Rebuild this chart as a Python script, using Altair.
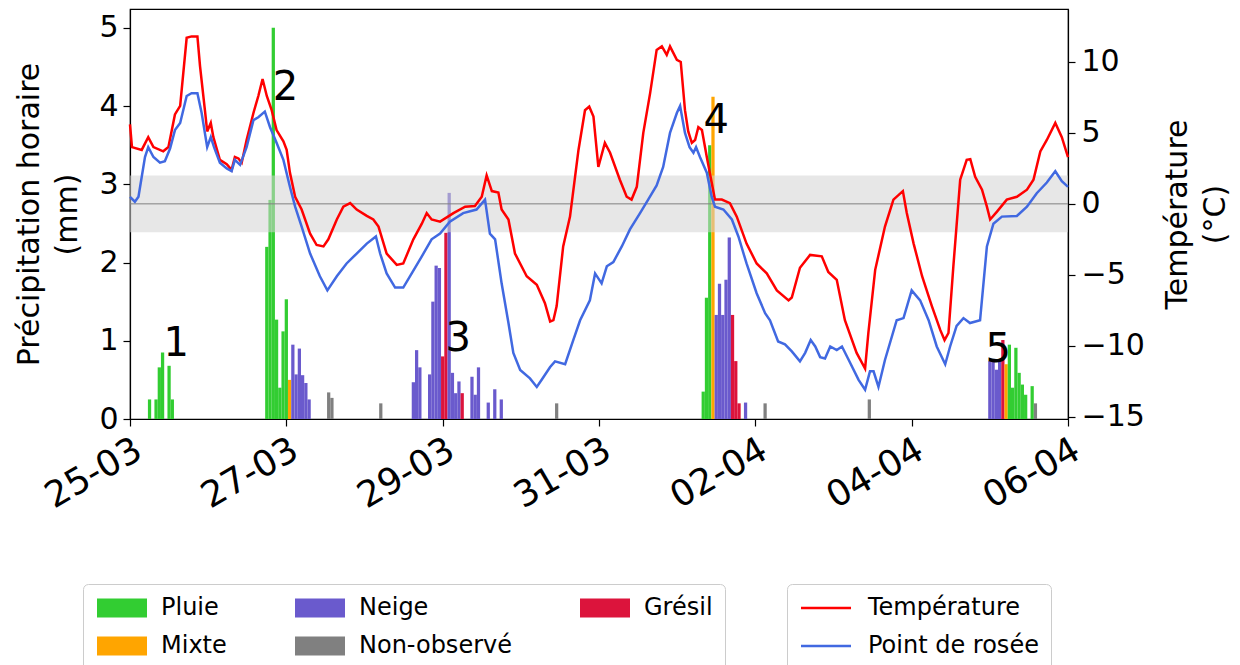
import altair as alt
import pandas as pd

# ---- Hourly precipitation (hour after 25-03 00:00, mm, type code) ----
bar_hours = [6, 8, 9, 10, 12, 13,
             42, 43, 44, 45, 46, 47, 48, 49, 50, 51, 52, 53, 54, 55, 61, 62, 77,
             87, 88, 89, 92, 93, 94, 95, 96, 97, 98, 99, 100, 101, 102, 105, 106, 107, 110, 112, 114, 131,
             176, 177, 178, 179, 180, 181, 182, 183, 184, 185, 186, 187, 189, 195, 227,
             264, 265, 266, 267, 268, 269, 270, 271, 272, 273, 274, 275, 277, 278]
bar_mm = [0.25, 0.25, 0.66, 0.85, 0.68, 0.25,
          2.2, 2.8, 5.0, 1.27, 0.4, 1.12, 1.53, 0.5, 0.95, 0.57, 0.9, 0.56, 0.46, 0.25, 0.34, 0.27, 0.2,
          0.47, 0.88, 0.66, 0.57, 1.5, 1.96, 1.93, 0.8, 2.38, 2.89, 0.59, 0.33, 0.48, 0.33, 0.54, 0.31, 0.66, 0.21, 0.38, 0.25, 0.2,
          0.35, 1.55, 3.5, 4.12, 1.33, 1.73, 1.33, 1.78, 2.32, 1.33, 0.74, 0.2, 0.21, 0.2, 0.25,
          0.74, 0.74, 0.63, 0.74, 1.01, 0.7, 0.95, 0.4, 0.91, 0.59, 0.44, 0.31, 0.42, 0.2]
bar_types = ["P", "P", "P", "P", "P", "P",
             "P", "P", "P", "P", "P", "P", "P", "M", "N", "N", "N", "N", "N", "N", "U", "U", "U",
             "N", "N", "N", "N", "N", "N", "N", "G", "G", "N", "N", "N", "N", "G", "N", "N", "N", "N", "N", "N", "U",
             "P", "P", "P", "M", "N", "N", "N", "N", "N", "G", "G", "G", "N", "U", "U",
             "N", "N", "N", "N", "G", "M", "P", "P", "P", "P", "P", "P", "P", "U"]
type_names = {"P": "Pluie", "N": "Neige", "G": "Grésil", "M": "Mixte", "U": "Non-observé"}
# legend fills column by column: Pluie/Mixte, Neige/Non-observé, Grésil
legend_order = ["Pluie", "Mixte", "Neige", "Non-observé", "Grésil"]
legend_colors = ["#32cd32", "#ffa500", "#6a5acd", "#808080", "#dc143c"]

# ---- Temperature and dew point (°C) ----
temp_hours = [0.0, 0.6, 3.6, 5.6, 7.2, 10.2, 11.8, 13.8, 15.4, 17.4,
              18.9, 20.7, 21.5, 23.0, 23.7, 24.8, 25.6, 27.6, 29.7, 31.2,
              32.2, 33.3, 34.3, 35.8, 37.9, 39.4, 40.7, 42.0, 43.5, 45.0,
              47.1, 48.1, 49.1, 50.7, 52.7, 55.3, 57.3, 59.4, 60.9, 63.5,
              65.5, 67.6, 69.6, 72.7, 74.7, 76.3, 78.8, 81.9, 83.9, 87.0,
              89.6, 91.1, 92.6, 95.2, 99.3, 102.9, 105.9, 108.0, 109.5, 111.1,
              113.1, 114.1, 116.2, 118.2, 121.8, 124.9, 127.4, 129.0, 130.0, 131.0,
              133.0, 135.1, 137.7, 139.7, 141.0, 142.3, 143.8, 145.8, 147.4, 150.4,
              152.5, 154.0, 155.6, 157.6, 159.7, 161.7, 163.3, 164.8, 165.8, 167.9,
              169.1, 170.4, 171.4, 172.5, 173.5, 174.5, 175.6, 177.1, 178.6, 179.6,
              181.7, 184.2, 186.3, 189.3, 192.4, 195.5, 198.6, 202.2, 203.2, 205.7,
              208.8, 212.4, 214.4, 217.0, 219.5, 223.1, 225.7, 226.7, 228.8, 231.8,
              234.4, 237.3, 238.5, 240.6, 243.2, 246.2, 248.8, 250.1, 251.3, 252.8,
              254.9, 256.9, 258.0, 259.5, 261.6, 263.1, 264.1, 266.2, 269.2, 272.3,
              275.4, 277.4, 279.5, 281.5, 284.1, 286.1, 288.0]
temp_values = [5.6, 4.0, 3.8, 4.7, 4.0, 3.7, 4.0, 6.3, 6.9, 11.7,
               11.8, 11.8, 9.7, 6.6, 5.1, 5.7, 4.7, 3.1, 2.8, 2.4,
               3.3, 3.2, 2.9, 4.5, 6.4, 7.6, 8.8, 7.6, 6.6, 5.2,
               4.4, 3.8, 2.2, 0.5, -0.4, -2.1, -2.9, -3.0, -2.5, -1.1,
               -0.2, 0.05, -0.4, -0.85, -1.1, -1.6, -3.5, -4.3, -4.2, -2.5,
               -1.4, -0.65, -1.1, -1.25, -0.65, -0.2, -0.15, 0.5, 2.0, 0.9,
               0.8, -0.4, -1.1, -3.5, -5.1, -5.7, -7.0, -8.3, -8.2, -7.2,
               -3.0, -0.9, 3.8, 6.6, 6.85, 6.15, 2.6, 4.3, 3.6, 1.7,
               0.5, 0.3, 1.2, 5.0, 7.8, 10.85, 11.1, 10.5, 11.1, 10.15,
               10.0, 6.6, 5.1, 4.3, 4.5, 5.4, 5.2, 3.3, 1.5, 0.3,
               0.3, 0.05, -0.9, -2.8, -4.2, -4.9, -6.1, -6.8, -6.6, -4.5,
               -3.6, -3.7, -4.8, -5.35, -8.2, -10.5, -11.6, -9.1, -4.65, -1.6,
               0.3, 0.9, -0.65, -2.8, -5.1, -7.2, -8.9, -9.6, -9.1, -4.4,
               1.7, 3.1, 3.15, 1.9, 1.0, -0.2, -1.1, -0.55, 0.3, 0.5,
               1.0, 1.7, 3.7, 4.5, 5.7, 4.7, 3.3]
dew_hours = [0.0, 1.5, 2.6, 4.6, 5.6, 7.2, 9.2, 10.7, 12.3, 13.8,
             15.4, 17.4, 18.9, 20.7, 22.0, 23.7, 24.8, 25.8, 27.6, 29.7,
             31.2, 32.2, 33.8, 35.8, 37.9, 39.4, 41.4, 43.0, 45.0, 47.1,
             49.1, 50.7, 52.7, 55.3, 58.3, 60.6, 63.5, 66.5, 69.6, 72.7,
             75.5, 76.8, 78.8, 81.4, 83.9, 86.5, 89.6, 92.6, 95.2, 98.2,
             102.3, 106.4, 109.0, 110.5, 112.1, 114.1, 116.2, 117.7, 119.8, 122.8,
             124.9, 126.4, 129.0, 130.5, 133.6, 136.1, 138.2, 141.2, 142.8, 144.8,
             146.4, 148.4, 151.0, 153.5, 156.6, 159.1, 161.7, 163.7, 165.8, 167.9,
             168.9, 170.4, 171.8, 173.0, 173.8, 175.0, 177.1, 178.6, 179.6, 182.2,
             184.8, 186.8, 189.3, 192.4, 195.0, 196.5, 199.0, 201.1, 203.2, 205.7,
             207.3, 209.0, 210.4, 211.9, 213.4, 215.0, 217.0, 218.6, 221.1, 223.7,
             225.7, 227.2, 228.3, 229.8, 231.8, 235.4, 237.5, 240.0, 242.6, 245.2,
             247.7, 250.3, 251.8, 253.8, 255.9, 257.9, 261.0, 263.1, 265.1, 267.7,
             272.3, 275.4, 278.4, 281.5, 284.1, 286.1, 288.0]
dew_values = [0.5, 0.15, 0.5, 3.3, 4.0, 3.3, 2.9, 3.0, 3.9, 5.2,
              5.7, 7.6, 7.8, 7.8, 6.4, 4.0, 4.7, 4.0, 2.9, 2.5,
              2.3, 3.1, 2.75, 4.0, 5.9, 6.1, 6.5, 5.4, 4.3, 3.1,
              1.2, -0.2, -1.6, -3.5, -5.1, -6.1, -5.1, -4.2, -3.5, -2.8,
              -2.3, -3.5, -4.9, -5.9, -5.9, -4.9, -3.7, -2.5, -2.1, -1.25,
              -0.65, -0.4, 0.3, -2.1, -2.5, -5.6, -8.4, -10.5, -11.7, -12.3,
              -12.9, -12.4, -11.5, -11.1, -11.3, -9.6, -8.2, -6.8, -4.9, -5.6,
              -4.4, -4.1, -3.0, -1.8, -0.65, 0.3, 1.3, 2.6, 5.0, 6.4,
              6.9, 5.0, 4.0, 3.6, 4.0, 3.3, 2.2, 0.5, -0.2, -0.4,
              -1.1, -2.3, -4.2, -6.3, -7.7, -8.2, -9.7, -9.9, -10.4, -11.1,
              -10.5, -9.6, -10.05, -10.8, -10.9, -10.05, -10.3, -10.05, -11.2, -12.4,
              -13.1, -11.8, -11.8, -12.9, -11.0, -8.2, -8.05, -6.1, -6.8, -8.2,
              -10.05, -11.3, -10.05, -8.6, -8.05, -8.4, -8.2, -3.0, -1.4, -0.9,
              -0.85, -0.2, 0.75, 1.5, 2.3, 1.6, 1.2]

# ---- Axes, freezing band and event labels ----
tick_hours = [0, 48, 96, 144, 192, 240, 288]
tick_labels = ["25-03", "27-03", "29-03", "31-03", "02-04", "04-04", "06-04"]
precip_ticks = [0, 1, 2, 3, 4, 5]
temp_ticks = [-15, -10, -5, 0, 5, 10]
precip_domain = [0, 5.24]
temp_domain = [-15.16, 13.73]
band_low, band_high = [-2], [2]
event_labels = ["1", "2", "3", "4", "5"]
event_hours = [10.3, 43.8, 96.9, 176.1, 262.7]
event_mm = [0.81, 4.08, 0.87, 3.66, 0.73]

FONT = "DejaVu Sans"
W, H = 938, 410

bars_df = pd.DataFrame({"heure": bar_hours, "mm": bar_mm,
                        "type": [type_names[t] for t in bar_types]})
lines_df = pd.concat([
    pd.DataFrame({"heure": temp_hours, "valeur": temp_values, "serie": "Température"}),
    pd.DataFrame({"heure": dew_hours, "valeur": dew_values, "serie": "Point de rosée"}),
], ignore_index=True)
band_df = pd.DataFrame({"bas": band_low, "haut": band_high})
events_df = pd.DataFrame({"label": event_labels, "heure": event_hours, "mm": event_mm})

step = tick_hours[1] - tick_hours[0]
label_expr = "[" + ",".join(f"'{s}'" for s in tick_labels) + f"][round(datum.value / {step})]"

x_scale = alt.Scale(domain=[tick_hours[0], tick_hours[-1]], nice=False, zero=False)
x_axis = alt.Axis(values=tick_hours, labelExpr=label_expr, labelAngle=330,
                  labelAlign="right", labelBaseline="top", labelPadding=6,
                  labelFontSize=36, tickSize=7, grid=False, title=None)
precip_scale = alt.Scale(domain=precip_domain, nice=False, zero=False)

# one-hour wide bars standing on the zero line
bars = alt.Chart(bars_df).transform_calculate(
    debut="datum.heure - 0.5", fin="datum.heure + 0.5", base="0"
).mark_rect(strokeWidth=0).encode(
    x=alt.X("debut:Q", scale=x_scale, axis=x_axis),
    x2="fin:Q",
    y=alt.Y("mm:Q", scale=precip_scale,
            axis=alt.Axis(values=precip_ticks, orient="left", grid=False, tickSize=7,
                          labelFontSize=30, labelPadding=5,
                          title=["Précipitation horaire", "(mm)"], titleFontSize=30,
                          titleLineHeight=38, titlePadding=16)),
    y2="base:Q",
    color=alt.Color("type:N", title=None,
                    scale=alt.Scale(domain=legend_order, range=legend_colors),
                    legend=alt.Legend(orient="none", legendX=-47, legendY=575, columns=3,
                                      symbolType="M-2.5,-0.95H2.5V0.95H-2.5Z", symbolSize=400,
                                      symbolOffset=15, symbolStrokeWidth=0, symbolOpacity=1,
                                      labelFontSize=24, labelFont=FONT, labelOffset=27,
                                      labelLimit=300, labelColor="black", rowPadding=14,
                                      columnPadding=66, padding=12, strokeColor="#cccccc",
                                      cornerRadius=5, fillColor="white")),
)

temp_y = alt.Scale(domain=temp_domain, nice=False, zero=False)
temp_axis = alt.Axis(values=temp_ticks, orient="right", grid=False, tickSize=7,
                     labelFontSize=30, labelPadding=6,
                     title=["Température", "(°C)"], titleFontSize=30, titleAngle=270,
                     titleLineHeight=38, titlePadding=10)

band = alt.Chart(band_df).mark_rect(color="lightgray", opacity=0.55).encode(
    x=alt.value(0), x2=alt.value(W),
    y=alt.Y("bas:Q", scale=temp_y, axis=temp_axis), y2="haut:Q",
)
zero_line = alt.Chart(band_df).mark_rule(color="gray", strokeWidth=1).encode(
    y=alt.datum(0),
)
lines = alt.Chart(lines_df).mark_line(strokeWidth=2.5).encode(
    x=alt.X("heure:Q", scale=x_scale, axis=x_axis),
    y=alt.Y("valeur:Q", scale=temp_y, axis=temp_axis),
    stroke=alt.Stroke("serie:N", title=None,
                      scale=alt.Scale(domain=["Température", "Point de rosée"],
                                      range=["#ff0000", "#4169e1"]),
                      legend=alt.Legend(orient="none", legendX=657, legendY=575,
                                        symbolType="M-2.5,0H2.5", symbolSize=400,
                                        symbolOffset=15, symbolStrokeWidth=2.5,
                                        labelFontSize=24, labelFont=FONT, labelOffset=30,
                                        labelLimit=300, labelColor="black", rowPadding=14,
                                        padding=12, strokeColor="#cccccc",
                                        cornerRadius=5, fillColor="white")),
    order=alt.Order("heure:Q"),
)
temp_group = alt.layer(band, zero_line, lines)

events = alt.Chart(events_df).mark_text(
    font=FONT, fontSize=40, align="left", baseline="alphabetic", color="black"
).encode(
    x=alt.X("heure:Q", scale=x_scale, axis=x_axis),
    y=alt.Y("mm:Q", scale=precip_scale, axis=None),
    text="label:N",
)

chart = alt.layer(bars, temp_group, events).resolve_scale(
    y="independent", color="independent", stroke="independent"
).properties(
    width=W, height=H,
    autosize=alt.AutoSizeParams(type="none"),
    padding={"left": 130, "top": 9, "right": 1240 - 130 - W, "bottom": 665 - 9 - H},
).configure(
    font=FONT,
).configure_view(
    stroke="black", strokeWidth=1.2,
).configure_axis(
    domainColor="black", tickColor="black", labelColor="black", titleColor="black",
    titleFontWeight="normal", labelFont=FONT, titleFont=FONT, domainWidth=1.2, tickWidth=1.2,
)

chart.save("out.html", embed_options={"renderer": "svg", "actions": False})
